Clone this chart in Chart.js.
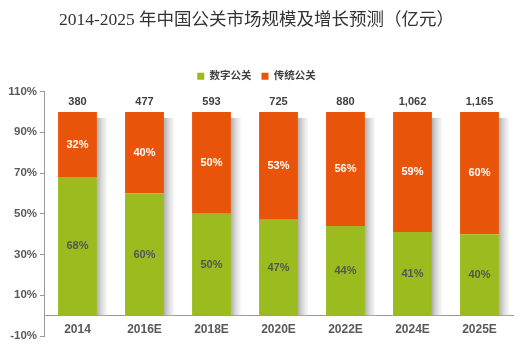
<!DOCTYPE html>
<html>
<head>
<meta charset="utf-8">
<script src="https://cdn.jsdelivr.net/npm/chart.js@4.4.1/dist/chart.umd.min.js"></script>
<style>
  html, body { margin: 0; padding: 0; background: #fff; }
  #wrap { width: 520px; height: 350px; position: relative; }
</style>
</head>
<body>
<div id="wrap"><canvas id="chart"></canvas></div>
<script>
// Données
const categories  = ['2014', '2016E', '2018E', '2020E', '2022E', '2024E', '2025E'];
const digital     = [68, 60, 50, 47, 44, 41, 40];   // 数字公关 (%)
const traditional = [32, 40, 50, 53, 56, 59, 60];   // 传统公关 (%)
const totals      = [380, 477, 593, 725, 880, 1062, 1165]; // 亿元
const yTicks      = [-10, 10, 30, 50, 70, 90, 110];

const green  = '#9bbb1f';
const orange = '#e8550a';
const sans   = "'Liberation Sans', Arial, 'Noto Sans CJK SC', sans-serif";

// Ombre grise à droite de chaque barre
const shadowPlugin = {
  id: 'barShadow',
  beforeDatasetsDraw(chart) {
    const ctx = chart.ctx;
    const meta = chart.getDatasetMeta(1);
    const base = chart.scales.y.getPixelForValue(0);
    meta.data.forEach(bar => {
      const x0 = bar.x + bar.width / 2;
      const top = bar.y + 6;
      const g = ctx.createLinearGradient(x0, 0, x0 + 10, 0);
      g.addColorStop(0, 'rgba(160,160,160,0.85)');
      g.addColorStop(1, 'rgba(225,225,225,0.3)');
      ctx.save();
      ctx.fillStyle = g;
      ctx.fillRect(x0, top, 10, base - top);
      ctx.restore();
    });
  }
};

// Étiquettes : pourcentages dans les barres + totaux au-dessus
const labelPlugin = {
  id: 'barLabels',
  afterDatasetsDraw(chart) {
    const ctx = chart.ctx;
    ctx.save();
    ctx.textAlign = 'center';
    ctx.textBaseline = 'middle';
    const m0 = chart.getDatasetMeta(0);
    const m1 = chart.getDatasetMeta(1);
    m0.data.forEach((bar, i) => {
      ctx.font = 'bold 11px ' + sans;
      ctx.fillStyle = '#555';
      ctx.fillText(digital[i] + '%', bar.x, (bar.y + bar.base) / 2);
    });
    m1.data.forEach((bar, i) => {
      ctx.font = 'bold 11px ' + sans;
      ctx.fillStyle = '#fff';
      ctx.fillText(traditional[i] + '%', bar.x, (bar.y + bar.base) / 2);
      ctx.font = 'bold 11px ' + sans;
      ctx.fillStyle = '#404040';
      ctx.fillText(totals[i].toLocaleString('en-US'), bar.x, bar.y - 10);
    });
    ctx.restore();
  }
};

new Chart(document.getElementById('chart'), {
  type: 'bar',
  data: {
    labels: categories,
    datasets: [
      { label: '数字公关', data: digital, backgroundColor: green },
      { label: '传统公关', data: traditional, backgroundColor: orange }
    ]
  },
  options: {
    responsive: true,
    maintainAspectRatio: false,
    animation: false,
    layout: { padding: { left: 0, right: 7, bottom: 14, top: 0 } },
    datasets: { bar: { categoryPercentage: 1, barPercentage: 0.58 } },
    plugins: {
      title: {
        display: true,
        text: '2014-2025 年中国公关市场规模及增长预测（亿元）',
        color: '#333',
        font: { family: "'Liberation Serif', 'Noto Sans CJK SC', serif", size: 17.5, weight: 'normal' },
        padding: { top: 10, bottom: 30 }
      },
      legend: {
        position: 'top',
        labels: {
          boxWidth: 7,
          boxHeight: 7,
          padding: 10,
          color: '#404040',
          font: { family: sans, size: 10.5, weight: 'bold' }
        }
      },
      tooltip: { enabled: false }
    },
    scales: {
      x: {
        stacked: true,
        position: { y: 0 },
        grid: { display: false, tickLength: 0 },
        border: { display: true, color: '#999', width: 1 },
        ticks: { color: '#595959', padding: 7, font: { family: sans, size: 12, weight: 'bold' } }
      },
      y: {
        stacked: true,
        min: -10,
        max: 110,
        afterBuildTicks(scale) { scale.ticks = yTicks.map(v => ({ value: v })); },
        afterFit(scale) { scale.width = 44; },
        grid: { drawOnChartArea: false, drawTicks: true, tickLength: 4, color: '#999' },
        border: { display: true, color: '#999', width: 1 },
        ticks: {
          color: '#595959',
          padding: 3,
          font: { family: sans, size: 11.5, weight: 'bold' },
          callback: v => v + '%'
        }
      }
    }
  },
  plugins: [shadowPlugin, labelPlugin]
});
</script>
</body>
</html>
